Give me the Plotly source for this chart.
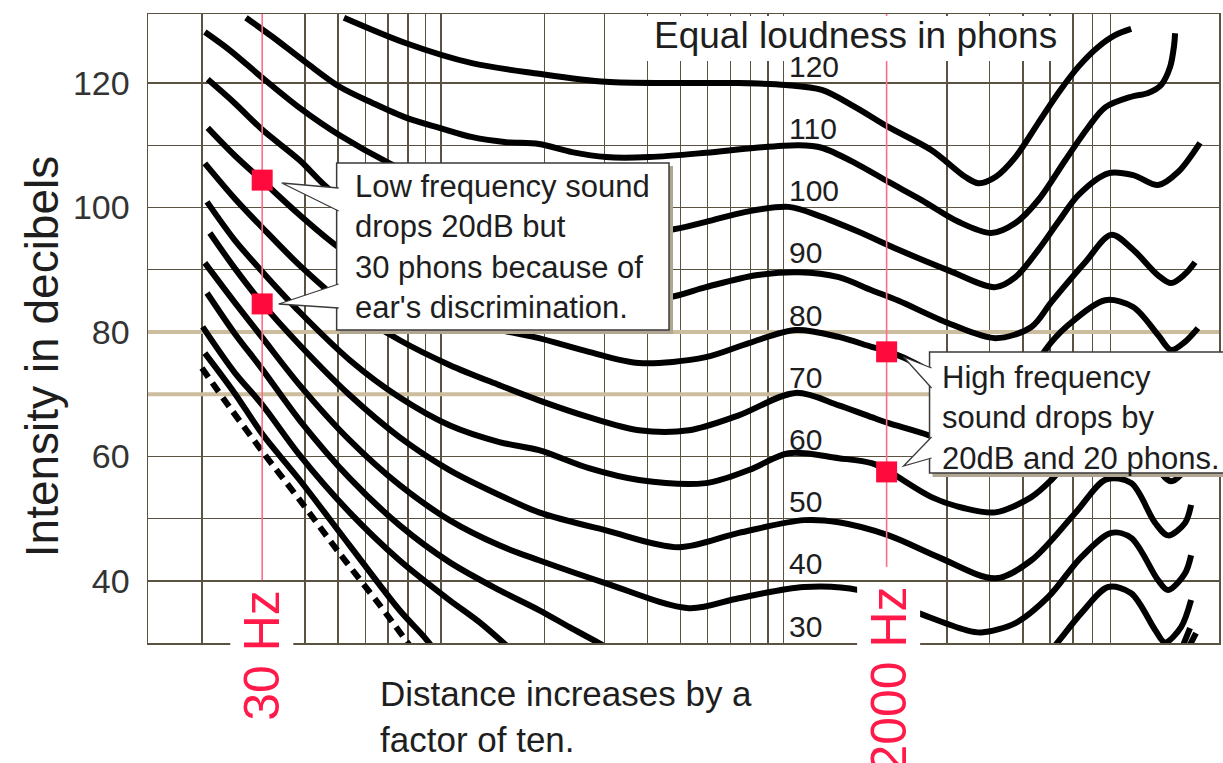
import numpy as np
import plotly.graph_objects as go

# ---------------- data: equal-loudness contours (Hz, dB) ----------------
phon_120_hz = [52, 79, 123, 193, 303, 472, 740, 1015, 1293, 1624, 2027, 2706, 3398, 3707, 4158, 4756, 5548, 6346, 7258, 8298, 9303, 10360]
phon_120_db = [130.5, 126.4, 123.2, 121.5, 120.2, 120.0, 120.0, 119.7, 118.9, 116.1, 112.9, 109.2, 104.9, 103.9, 104.9, 108.1, 113.6, 118.4, 122.6, 125.8, 127.7, 128.7]

phon_110_hz = [26.9, 32.2, 40.5, 50.5, 63.0, 79.2, 98.8, 123.4, 155, 193, 241, 303, 405, 593, 830, 1108, 1293, 1624, 2027, 2530, 3243, 4046, 4756, 5548, 6650, 7762, 8700, 10360, 11606, 12670, 13460, 13830, 13920]
phon_110_db = [130.5, 127.4, 123.2, 119.4, 116.8, 114.4, 112.8, 111.3, 110.5, 110.2, 108.9, 108.1, 108.1, 108.8, 109.6, 110.0, 109.6, 107.1, 104.1, 101.2, 97.7, 95.9, 97.5, 101.2, 107.6, 112.9, 116.1, 117.8, 118.4, 119.7, 122.6, 126.1, 128.0]

phon_100_hz = [20.4, 24.1, 30.1, 38.6, 50.5, 70.7, 105.7, 193, 309, 462, 593, 776, 1035, 1293, 1657, 2168, 3032, 4158, 4756, 5548, 6346, 7258, 8875, 10500, 12414, 14198, 16460]
phon_100_db = [128.2, 125.3, 120.8, 116.0, 111.6, 107.1, 102.8, 99.1, 97.0, 96.4, 97.7, 99.3, 100.1, 98.5, 96.1, 93.2, 89.9, 87.2, 88.8, 93.2, 97.7, 102.0, 105.5, 105.2, 103.6, 105.7, 110.4]

phon_90_hz = [20.8, 24.9, 30.1, 38.6, 48.2, 75.5, 129.3, 221, 331, 462, 593, 830, 1108, 1449, 1808, 2168, 3032, 4158, 5294, 6054, 7606, 9058, 10500, 12414, 13550, 14880, 15920]
phon_90_db = [120.6, 116.8, 112.45, 107.6, 102.5, 97.2, 92.35, 88.3, 85.9, 85.6, 87.2, 89.1, 89.6, 88.8, 86.7, 85.0, 81.4, 79.0, 80.8, 84.8, 91.2, 95.6, 93.2, 89.1, 87.85, 89.3, 91.2]

phon_80_hz = [20.8, 24.9, 30.1, 38.6, 50.5, 75.5, 105.7, 138.3, 193, 270, 378, 593, 792, 1085, 1449, 1808, 2040, 2479, 3243, 4158, 5188, 5816, 6786, 8700, 10500, 12414, 13550, 14880, 16232]
phon_80_db = [112.8, 108.4, 104.25, 98.8, 93.5, 87.85, 83.8, 80.8, 79.0, 76.8, 75.0, 75.95, 78.2, 80.3, 79.2, 77.6, 76.8, 74.7, 70.65, 69.0, 72.3, 77.1, 81.1, 85.1, 84.0, 79.5, 77.1, 78.4, 80.6]

phon_70_hz = [20.4, 24.9, 30.1, 38.6, 54.0, 75.5, 105.7, 147.8, 193, 270, 378, 529, 740, 1085, 1449, 1808, 2027, 2651, 3468, 4242, 5548, 7258, 8875, 10855, 13550, 15920]
phon_70_db = [107.1, 101.5, 96.7, 90.7, 83.8, 78.7, 74.7, 71.45, 69.0, 66.3, 64.2, 64.2, 66.6, 70.2, 68.2, 66.3, 65.35, 63.4, 60.7, 59.7, 62.6, 69.85, 75.0, 73.1, 67.1, 70.2]

phon_60_hz = [20.7, 24.9, 30.1, 38.6, 54.0, 75.5, 105.7, 147.8, 193, 270, 378, 593, 792, 1035, 1449, 1808, 2040, 2706, 3354, 4158, 5294, 6054, 7258, 8875, 10855, 13550, 15920]
phon_60_db = [100.9, 94.8, 89.6, 83.2, 75.5, 69.5, 65.0, 62.3, 61.0, 58.1, 56.2, 55.7, 57.8, 60.5, 59.7, 58.9, 57.5, 53.45, 51.7, 51.0, 53.45, 56.2, 61.0, 65.0, 62.6, 56.0, 60.2]

phon_50_hz = [21.1, 24.9, 30.1, 38.6, 54.0, 75.5, 105.7, 147.8, 193, 303, 495, 740, 1146, 1449, 2027, 2835, 4158, 5294, 7114, 8758, 10360, 12170, 13277, 14880, 15500]
phon_50_db = [95.9, 90.3, 84.5, 77.9, 69.85, 63.1, 57.8, 53.8, 51.0, 48.1, 45.4, 47.7, 49.75, 49.4, 47.3, 43.8, 40.4, 43.3, 50.9, 56.3, 55.7, 49.3, 47.3, 49.3, 52.2]

phon_40_hz = [20.4, 24.9, 30.1, 38.6, 54.0, 75.5, 105.7, 147.8, 193, 303, 529, 740, 1146, 1657, 2479, 3398, 3784, 4756, 5933, 7406, 9058, 10360, 12414, 13277, 14880, 15500]
phon_40_db = [91.1, 84.8, 79.0, 71.45, 62.6, 55.4, 49.75, 45.7, 43.3, 39.6, 35.6, 37.2, 39.0, 38.5, 34.8, 32.1, 31.7, 33.2, 37.4, 43.8, 47.7, 46.9, 40.1, 38.5, 41.2, 44.1]

phon_30_low_hz = [20.7, 24.9, 30.1, 38.6, 54.0, 75.5, 105.7, 147.8, 193, 237, 289, 320]
phon_30_low_db = [86.25, 79.8, 73.9, 65.8, 56.5, 48.95, 43.0, 38.5, 35.3, 32.55, 29.97, 28.5]
phon_30_high_hz = [5933, 6218, 7406, 8875, 10360, 12170, 13010, 14490, 15500]
phon_30_high_db = [28.5, 29.65, 34.8, 39.0, 38.0, 32.1, 30.1, 32.55, 36.9]

phon_20_low_hz = [20.1, 24.9, 30.1, 38.6, 54.0, 75.5, 105.7, 129.3, 158]
phon_20_low_db = [80.8, 73.5, 68.2, 60.2, 51.0, 43.3, 36.9, 33.35, 29.2]
phon_20_high_hz = [14490, 15390]
phon_20_high_db = [28.85, 32.4]

phon_10_low_hz = [20.4, 24.9, 30.1, 38.6, 54.0, 75.5, 89.4, 96.8]
phon_10_low_db = [76.6, 70.2, 63.5, 56.2, 45.7, 35.3, 30.9, 28.5]
phon_10_high_hz = [14990, 16020]
phon_10_high_db = [28.5, 31.6]

threshold_hz = [20.0, 24.1, 30.1, 38.6, 50.5, 66.1, 81.9]
threshold_db = [74.2, 67.9, 60.7, 53.0, 44.4, 36.1, 29.2]

phon_levels = [120, 110, 100, 90, 80, 70, 60, 50, 40, 30]

grid_hz = [20, 40, 50, 60, 70, 80, 90, 100, 200, 300, 400, 500, 600, 700, 800,
           900, 1000, 3000, 4000, 5000, 6000, 7000, 8000, 9000]
db_ticks = [30, 40, 50, 60, 70, 80, 90, 100, 110, 120]
db_tick_text = ["", "40", "", "60", "", "80", "", "100", "", "120"]
highlight_db = [70, 80]

marker_hz = [30, 30, 2000, 2000]
marker_db = [104.4, 84.5, 76.8, 57.5]
ref_freqs = [30, 2000]
ref_line_low_db = [40.1, 42.2]

# ---------------- layout constants ----------------
W, H = 1223, 763
PL, PR, PT, PB = 148, 1221, 14, 643
PX_PER_DECADE = 343.0
X20_PX = 202.0
X0 = np.log10(20) - (X20_PX - PL) / PX_PER_DECADE
X1 = np.log10(20) + (PR - X20_PX) / PX_PER_DECADE
Y0, Y1 = 30.0, 131.1

FONT = "Liberation Sans, Arial, Helvetica, sans-serif"
INK = "#1e1e1e"
GRID = "#5a5341"
TAN = "#cbbd9d"
RED = "#ff1a4a"
RED_LINE = "#ff6e88"
SQUARE = "#ff0a3c"


def px(x):
    return (x - PL) / (PR - PL)


def py(y):
    return (PB - y) / (PB - PT)


fig = go.Figure()

# highlighted (tan) horizontal rules
for v in highlight_db:
    fig.add_trace(go.Scatter(x=[10, 30000], y=[v, v], mode="lines",
                             line=dict(color=TAN, width=4), hoverinfo="skip"))

solid_curves = [
    (phon_120_hz, phon_120_db), (phon_110_hz, phon_110_db),
    (phon_100_hz, phon_100_db), (phon_90_hz, phon_90_db),
    (phon_80_hz, phon_80_db), (phon_70_hz, phon_70_db),
    (phon_60_hz, phon_60_db), (phon_50_hz, phon_50_db),
    (phon_40_hz, phon_40_db),
    (phon_30_low_hz, phon_30_low_db), (phon_30_high_hz, phon_30_high_db),
    (phon_20_low_hz, phon_20_low_db), (phon_20_high_hz, phon_20_high_db),
    (phon_10_low_hz, phon_10_low_db), (phon_10_high_hz, phon_10_high_db),
]
for hz, db in solid_curves:
    fig.add_trace(go.Scatter(x=hz, y=db, mode="lines",
                             line=dict(color="black", width=6, shape="spline", smoothing=0.9),
                             hoverinfo="skip"))

fig.add_trace(go.Scatter(x=threshold_hz, y=threshold_db, mode="lines",
                         line=dict(color="black", width=6, shape="spline", smoothing=0.9,
                                   dash="11px,7px"),
                         hoverinfo="skip"))

# red reference frequency lines
for f, low in zip(ref_freqs, ref_line_low_db):
    fig.add_trace(go.Scatter(x=[f, f], y=[low, 140], mode="lines",
                             line=dict(color=RED_LINE, width=1.6), hoverinfo="skip"))

fig.add_trace(go.Scatter(x=marker_hz, y=marker_db, mode="markers",
                         marker=dict(symbol="square", size=21, color=SQUARE,
                                     line=dict(width=0)),
                         hoverinfo="skip"))

shapes = []
# title white patch
shapes.append(dict(type="rect", xref="paper", yref="paper", layer="above",
                   x0=px(645), x1=px(1068), y0=py(61), y1=py(16),
                   fillcolor="white", line=dict(width=0)))
# left callout
shapes.append(dict(type="rect", xref="paper", yref="paper", layer="above",
                   x0=px(340), x1=px(674), y0=py(334), y1=py(166),
                   fillcolor="#b0a792", line=dict(width=0)))
shapes.append(dict(type="rect", xref="paper", yref="paper", layer="above",
                   x0=px(337), x1=px(670), y0=py(330), y1=py(163),
                   fillcolor="white", line=dict(color="#3a3a3a", width=1.5)))
# right callout
shapes.append(dict(type="rect", xref="paper", yref="paper", layer="above",
                   x0=px(934), x1=px(1260), y0=py(477), y1=py(355),
                   fillcolor="#b0a792", line=dict(width=0)))
shapes.append(dict(type="rect", xref="paper", yref="paper", layer="above",
                   x0=px(931), x1=px(1260), y0=py(473), y1=py(352),
                   fillcolor="white", line=dict(color="#3a3a3a", width=1.5)))


def pointer(base_x, b1, tip, b2):
    return dict(type="path", xref="paper", yref="paper", layer="above",
                path=(f"M {px(base_x)},{py(b1)} L {px(tip[0])},{py(tip[1])} "
                      f"L {px(base_x)},{py(b2)}"),
                fillcolor="white", line=dict(color="#3a3a3a", width=1.3))


shapes.append(pointer(339, 188, (282, 183), 211))
shapes.append(pointer(339, 284, (279, 304), 308))
shapes.append(pointer(933, 368, (905, 357), 388))
shapes.append(pointer(933, 437, (905, 466), 458))

annotations = []
for p in phon_levels:
    annotations.append(dict(xref="x", yref="y", x=np.log10(1000), y=p + 2.7,
                            xanchor="left", yanchor="middle", xshift=3,
                            text=str(p), showarrow=False,
                            font=dict(family=FONT, size=30, color=INK)))

annotations.append(dict(xref="paper", yref="paper", x=px(857), y=py(36),
                        xanchor="center", yanchor="middle", showarrow=False,
                        text="Equal loudness in phons",
                        font=dict(family=FONT, size=37, color=INK)))
annotations.append(dict(xref="paper", yref="paper", x=px(353), y=py(247),
                        xanchor="left", yanchor="middle", align="left", showarrow=False,
                        text="Low frequency sound<br>drops 20dB but<br>30 phons because of<br>ear's discrimination.",
                        font=dict(family=FONT, size=31, color=INK)))
annotations.append(dict(xref="paper", yref="paper", x=px(941), y=py(418),
                        xanchor="left", yanchor="middle", align="left", showarrow=False,
                        text="High frequency<br>sound drops by<br>20dB and 20 phons.",
                        font=dict(family=FONT, size=31, color=INK)))
annotations.append(dict(xref="paper", yref="paper", x=px(378), y=py(716),
                        xanchor="left", yanchor="middle", align="left", showarrow=False,
                        text="Distance increases by a<br>factor of ten.",
                        font=dict(family=FONT, size=35, color=INK)))
annotations.append(dict(xref="paper", yref="paper", x=px(262), y=py(655),
                        xanchor="center", yanchor="middle", textangle=-90, showarrow=False,
                        text="30 Hz", bgcolor="white", borderpad=3,
                        font=dict(family=FONT, size=50, color=RED)))
annotations.append(dict(xref="paper", yref="paper", x=px(890), y=py(680),
                        xanchor="center", yanchor="middle", textangle=-90, showarrow=False,
                        text="2000 Hz", bgcolor="white", borderpad=3,
                        font=dict(family=FONT, size=50, color=RED)))
annotations.append(dict(xref="paper", yref="paper", x=px(42), y=py(357),
                        xanchor="center", yanchor="middle", textangle=-90, showarrow=False,
                        text="Intensity in decibels",
                        font=dict(family=FONT, size=46, color=INK)))

fig.update_layout(
    width=W, height=H,
    margin=dict(l=PL, r=W - PR, t=PT, b=H - PB),
    paper_bgcolor="white", plot_bgcolor="white",
    showlegend=False,
    xaxis=dict(type="log", range=[X0, X1], tickvals=grid_hz, showticklabels=False,
               ticks="", showgrid=True, gridcolor=GRID, gridwidth=1.5,
               showline=True, mirror=True, linecolor=GRID, linewidth=1.5, zeroline=False),
    yaxis=dict(range=[Y0, Y1], tickvals=db_ticks, ticktext=db_tick_text, ticks="",
               showgrid=True, gridcolor=GRID, gridwidth=1.5,
               showline=True, mirror=True, linecolor=GRID, linewidth=1.5, zeroline=False,
               tickfont=dict(family=FONT, size=34, color="#333333"),
               ticklabelstandoff=10),
    shapes=shapes,
    annotations=annotations,
)

fig.write_html("out.html",
               config={"displayModeBar": False, "staticPlot": True},
               post_script="document.body.style.margin='0';document.body.style.overflow='hidden';")
